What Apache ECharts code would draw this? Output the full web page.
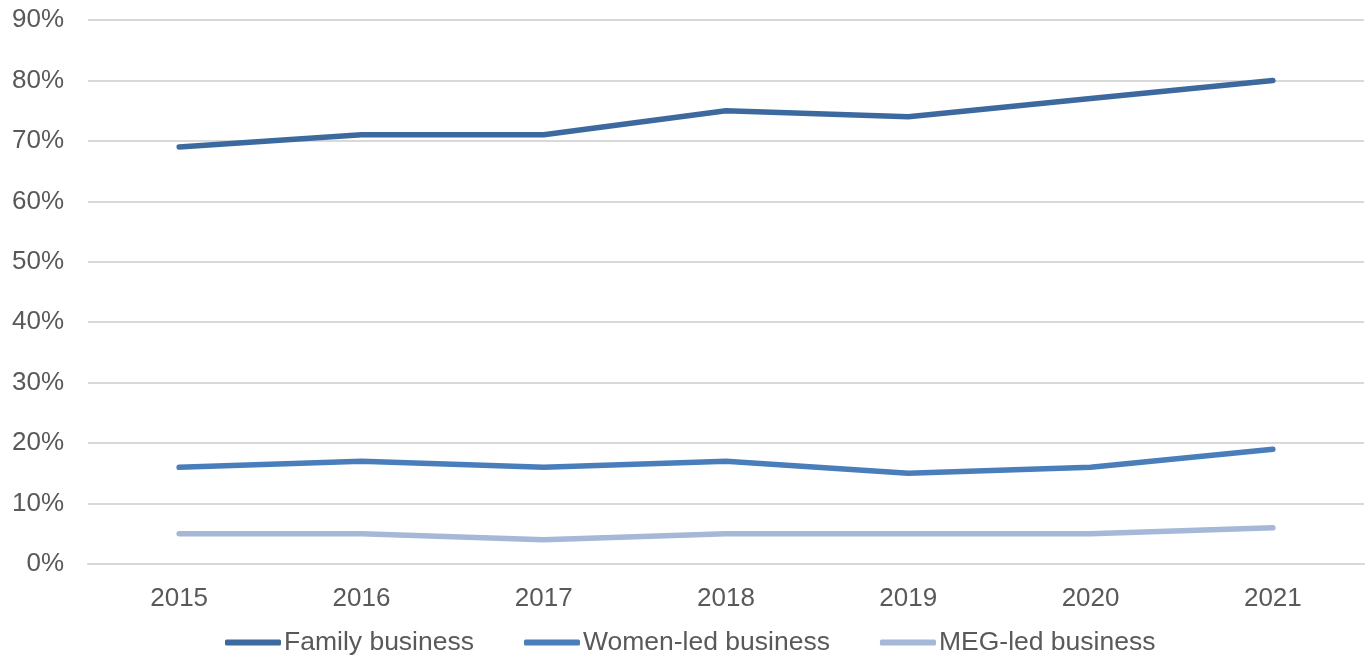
<!DOCTYPE html>
<html>
<head>
<meta charset="utf-8">
<script src="https://cdn.jsdelivr.net/npm/echarts@6/dist/echarts.min.js"></script>
<style>
  html, body { margin: 0; padding: 0; background: #fff; }
  #chart { width: 1367px; height: 655px; }
</style>
</head>
<body>
<div id="chart"></div>
<script>
// Years on the horizontal axis
const years = ['2015', '2016', '2017', '2018', '2019', '2020', '2021'];

// Share of businesses (%) per year
const familyBusiness = [69, 71, 71, 75, 74, 77, 80];
const womenLedBusiness = [16, 17, 16, 17, 15, 16, 19];
const megLedBusiness = [5, 5, 4, 5, 5, 5, 6];

const seriesNames = ['Family business', 'Women-led business', 'MEG-led business'];
const seriesColors = ['#3d6a9e', '#4a7ebb', '#a5b8d7'];

const textColor = '#595959';
const fontFamily = 'Liberation Sans, Arial, sans-serif';

const chart = echarts.init(document.getElementById('chart'));

function lineSeries(name, data, color) {
  return {
    name: name,
    type: 'line',
    data: data,
    symbol: 'none',
    smooth: false,
    lineStyle: { width: 5.5, color: color, cap: 'round', join: 'round' },
    itemStyle: { color: color }
  };
}

chart.setOption({
  animation: false,
  backgroundColor: '#ffffff',
  grid: { left: 88, right: 3, top: 20, bottom: 91, containLabel: false },
  xAxis: {
    type: 'category',
    data: years,
    boundaryGap: true,
    axisLine: { show: true, lineStyle: { color: '#d9d9d9', width: 2 } },
    axisTick: { show: false },
    axisLabel: { color: textColor, fontSize: 26, fontFamily: fontFamily, margin: 22 }
  },
  yAxis: {
    type: 'value',
    min: 0,
    max: 90,
    interval: 10,
    axisLine: { show: false },
    axisTick: { show: false },
    axisLabel: {
      color: textColor, fontSize: 26, fontFamily: fontFamily, margin: 24,
      formatter: v => v + '%'
    },
    splitLine: { show: true, lineStyle: { color: '#d9d9d9', width: 2 } }
  },
  legend: {
    data: seriesNames,
    top: 629,
    left: 225,
    padding: 0,
    icon: 'roundRect',
    itemWidth: 56,
    itemHeight: 6,
    itemGap: 50,
    textStyle: { color: textColor, fontSize: 26.5, fontFamily: fontFamily, padding: [0, 0, 0, -2] }
  },
  series: [
    lineSeries(seriesNames[0], familyBusiness, seriesColors[0]),
    lineSeries(seriesNames[1], womenLedBusiness, seriesColors[1]),
    lineSeries(seriesNames[2], megLedBusiness, seriesColors[2])
  ]
});
</script>
</body>
</html>
